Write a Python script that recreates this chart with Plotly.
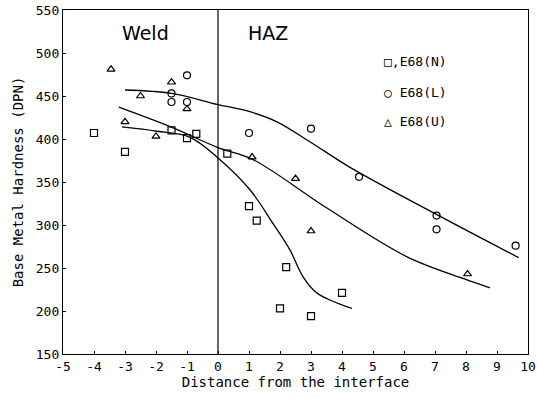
import plotly.graph_objects as go

# Measured points
n_x = [-4, -3, -1.5, -1, -0.7, 0.3, 1.0, 1.25, 2.2, 2.0, 3.0, 4.0]
n_y = [407, 385, 410, 401, 406, 383, 322, 305, 251, 203, 194, 221]

l_x = [-1, -1.5, -1.5, -1, 1.0, 3.0, 4.55, 7.05, 7.05, 9.6]
l_y = [474, 453, 443, 443, 407, 412, 356, 311, 295, 276]

u_x = [-3.45, -2.5, -3.0, -2.0, -1.5, -1.0, 1.1, 2.5, 3.0, 8.05]
u_y = [481, 450, 420, 403, 466, 435, 379, 354, 293, 243]

# Fitted curves
fit_l_x = [-3.0, -1.5, 0.0, 1.0, 1.9, 3.0, 4.26, 7.06, 9.7]
fit_l_y = [457, 453, 440, 432, 420, 396, 367, 312, 262]
fit_u_x = [-3.2, -1.45, 0.0, 1.13, 3.5, 6.1, 7.97, 8.77]
fit_u_y = [437, 413, 390, 376, 320, 263, 237, 227]
fit_n_x = [-3.1, -1.97, -0.9, 0.0, 1.03, 1.77, 2.32, 2.74, 3.19, 4.32]
fit_n_y = [414, 409, 402, 378, 341, 302, 271, 240, 221, 203]

x_ticks = [-5, -4, -3, -2, -1, 0, 1, 2, 3, 4, 5, 6, 7, 8, 9, 10]
y_ticks = [150, 200, 250, 300, 350, 400, 450, 500, 550]

FONT = "DejaVu Sans Mono"
fig = go.Figure()

for fx, fy in [(fit_l_x, fit_l_y), (fit_u_x, fit_u_y), (fit_n_x, fit_n_y)]:
    fig.add_trace(go.Scatter(x=fx, y=fy, mode="lines",
                             line=dict(color="black", width=1.3, shape="spline", smoothing=1.0),
                             showlegend=False, hoverinfo="skip"))

mk = dict(color="black", size=7, line=dict(color="black", width=1.2))
fig.add_trace(go.Scatter(x=n_x, y=n_y, mode="markers", name="□,E68(N)",
                         marker=dict(symbol="square-open", **mk)))
fig.add_trace(go.Scatter(x=l_x, y=l_y, mode="markers", name="○ E68(L)",
                         marker=dict(symbol="circle-open", **mk)))
fig.add_trace(go.Scatter(x=u_x, y=u_y, mode="markers", name="△ E68(U)",
                         marker=dict(symbol="triangle-up-open", **mk)))

# interface line
fig.add_shape(type="line", x0=0, x1=0, y0=150, y1=550, xref="x", yref="y",
              line=dict(color="black", width=1.2))

# legend as annotations
leg = [("□,E68(N)", 490), ("○ E68(L)", 454), ("△ E68(U)", 420)]
for txt, yy in leg:
    fig.add_annotation(x=5.3, y=yy, text=txt, showarrow=False, xanchor="left",
                       font=dict(family=FONT, size=13, color="black"))

fig.add_annotation(x=-2.35, y=523, text="Weld", showarrow=False,
                   font=dict(family="DejaVu Sans", size=19, color="black"))
fig.add_annotation(x=1.6, y=523, text="HAZ", showarrow=False,
                   font=dict(family="DejaVu Sans", size=19, color="black"))

fig.update_layout(
    width=537, height=398,
    margin=dict(l=63, r=9, t=10, b=44),
    paper_bgcolor="white", plot_bgcolor="white",
    showlegend=False,
    font=dict(family=FONT, color="black"),
)
fig.update_xaxes(range=[-5, 10], tickvals=x_ticks, ticktext=[str(v) for v in x_ticks],
                 ticks="inside", ticklen=3, tickcolor="black", automargin=False,
                 showline=True, linecolor="black", linewidth=1.3, mirror=True,
                 showgrid=False, zeroline=False,
                 tickfont=dict(family=FONT, size=13),
                 title=dict(text="Distance from the interface", font=dict(family=FONT, size=14), standoff=3))
fig.update_yaxes(range=[150, 550], tickvals=y_ticks,
                 ticks="inside", ticklen=3, tickcolor="black", automargin=False,
                 showline=True, linecolor="black", linewidth=1.3, mirror=True,
                 showgrid=False, zeroline=False,
                 tickfont=dict(family=FONT, size=13),
                 title=dict(text="Base Metal Hardness (DPN)", font=dict(family=FONT, size=14), standoff=8))

fig.write_html("out.html", config={"displayModeBar": False},
               post_script="document.body.style.margin='0';")
